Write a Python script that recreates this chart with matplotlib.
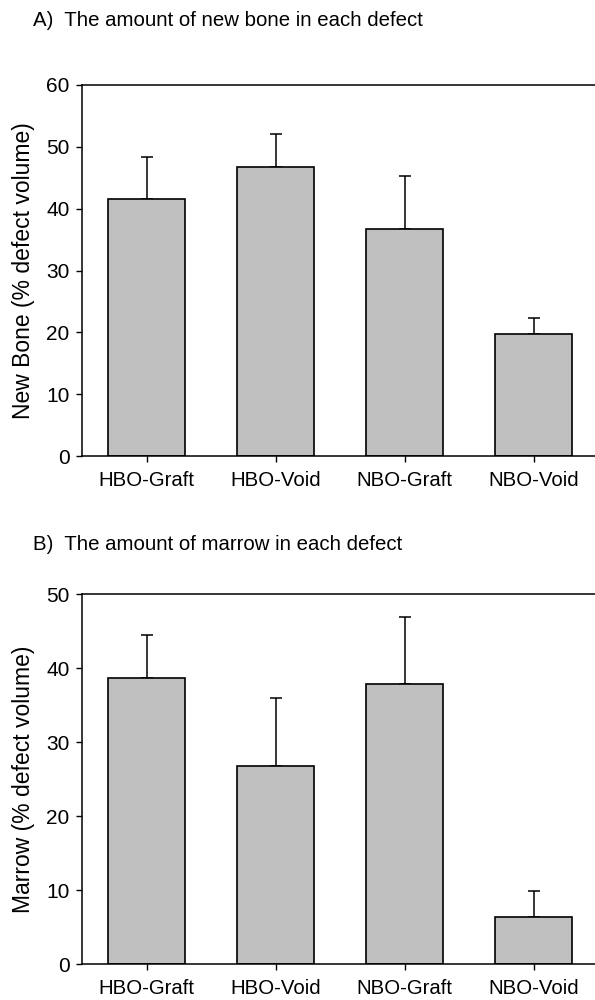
import matplotlib
matplotlib.use("Agg")
import matplotlib.pyplot as plt
import numpy as np

plt.rcParams['font.family'] = ['Liberation Sans', 'DejaVu Sans']

categories = ["HBO-Graft", "HBO-Void", "NBO-Graft", "NBO-Void"]
new_bone = [41.5, 46.8, 36.7, 19.8]
new_bone_err = [6.9, 5.2, 8.6, 2.5]
marrow = [38.7, 26.8, 37.8, 6.3]
marrow_err = [5.7, 9.1, 9.1, 3.6]

title_a = "A)  The amount of new bone in each defect"
title_b = "B)  The amount of marrow in each defect"
ylabel_a = "New Bone (% defect volume)"
ylabel_b = "Marrow (% defect volume)"

fig = plt.figure(figsize=(5.95, 10), dpi=100)
W, H = 595, 1000

def make_axes(top_px, bottom_px):
    left = 82 / W
    right = 598 / W
    return fig.add_axes([left, 1 - bottom_px / H, right - left, (bottom_px - top_px) / H])

def draw(ax, vals, errs, ymax, step, ylabel):
    x = np.arange(len(categories))
    ax.bar(x, vals, width=0.6, color="#c0c0c0", edgecolor="black", linewidth=1.2, zorder=2)
    ax.errorbar(x, vals, yerr=[np.zeros(len(vals)), errs], fmt="none", ecolor="black",
                elinewidth=1.1, capsize=4, capthick=1.1, zorder=1)
    ax.set_xlim(-0.5, 3.5)
    ax.set_ylim(0, ymax)
    ax.set_yticks(np.arange(0, ymax + 1, step))
    ax.set_xticks(x)
    ax.set_xticklabels(categories)
    ax.spines['right'].set_visible(False)
    for s in ['left', 'bottom', 'top']:
        ax.spines[s].set_linewidth(1.1)
    ax.tick_params(axis='y', direction='out', length=4, width=1.0, labelsize=15, pad=5)
    ax.tick_params(axis='x', direction='out', length=4, width=1.0, labelsize=14.7, pad=7)
    ax.set_ylabel(ylabel, fontsize=16.5, labelpad=8)

ax1 = make_axes(85, 456)
draw(ax1, new_bone, new_bone_err, 60, 10, ylabel_a)
ax2 = make_axes(594, 964)
draw(ax2, marrow, marrow_err, 50, 10, ylabel_b)

fig.text(33 / W, 1 - 20 / H, title_a, fontsize=14.7, va='center', ha='left')
fig.text(33 / W, 1 - 545 / H, title_b, fontsize=14.7, va='center', ha='left')

fig.savefig("out.png", dpi=100)
